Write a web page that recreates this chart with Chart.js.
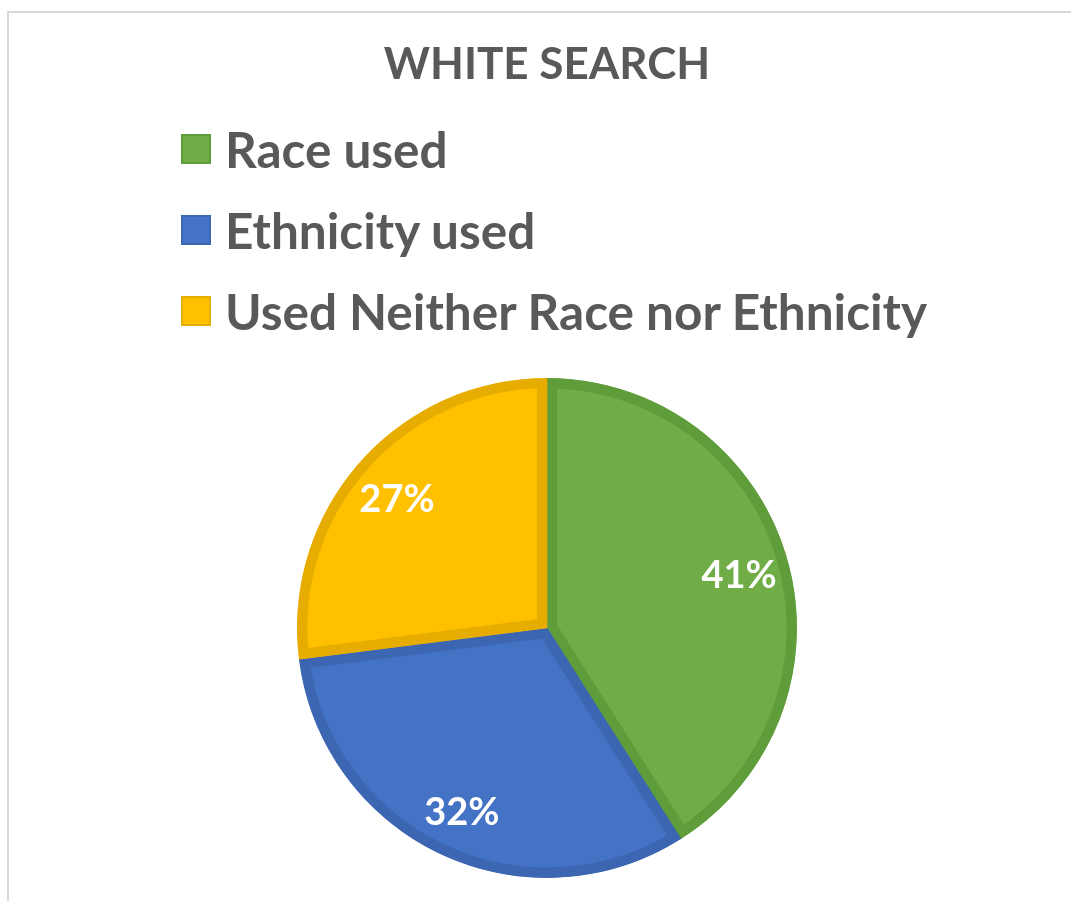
<!DOCTYPE html>
<html>
<head>
<meta charset="utf-8">
<script src="https://cdn.jsdelivr.net/npm/chart.js@4"></script>
<style>
html,body{margin:0;padding:0;background:#fff}
#wrap{position:relative;width:1071px;height:901px;overflow:hidden}
#frame{position:absolute;left:7px;top:11px;right:0;bottom:0;border-top:2px solid #d9d9d9;border-left:2px solid #d9d9d9}
#chart{position:absolute;left:0;top:0}
#legend{position:absolute;left:181px;top:108px;font-family:Lato,"Open Sans",sans-serif;font-weight:bold;color:#595959}
.item{display:flex;align-items:center;height:81px;font-size:49.5px;white-space:nowrap}
.box{width:26px;height:26px;margin-right:14px;border:2px solid}
</style>
</head>
<body>
<div id="wrap">
<div id="frame"></div>
<canvas id="chart" width="1071" height="901"></canvas>
<div id="legend"></div>
</div>
<script>

let labels = ["Race used","Ethnicity used","Used Neither Race nor Ethnicity"]
let values = [41,32,27]
let fills = ["#70ad47","#4472c4","#ffc000"]
let borders = ["#5f9c3a","#3c65b2","#e6ad00"]

// percent labels in white, drawn on each slice
let sliceLabels = {
id:"sliceLabels",
afterDatasetsDraw(chart){
let ctx = chart.ctx
let meta = chart.getDatasetMeta(0)
let total = values.reduce((a,b)=>a+b,0)
ctx.save()
ctx.font = "bold 38px Lato, 'Open Sans', sans-serif"
ctx.fillStyle = "#ffffff"
ctx.textAlign = "center"
ctx.textBaseline = "middle"
meta.data.forEach((arc,i)=>{
let p = arc.getProps(["x","y","startAngle","endAngle","outerRadius"])
let mid = (p.startAngle+p.endAngle)/2
let r = p.outerRadius*0.8
let x = p.x + Math.cos(mid)*r
let y = p.y + Math.sin(mid)*r + 4
ctx.fillText(Math.round(values[i]/total*100)+"%", x, y)
})
ctx.restore()
}
}

let ctx = document.getElementById("chart").getContext("2d")

let chart = new Chart(ctx,{
type:"pie",
data:{
labels:labels,
datasets:[{
data:values,
backgroundColor:fills,
borderColor:borders,
borderWidth:10,
borderAlign:"inner"
}]
},
options:{
responsive:false,
animation:false,
layout:{padding:{left:297,right:274,top:0,bottom:23}},
plugins:{
legend:{display:false},
tooltip:{enabled:false},
title:{
display:true,
text:"WHITE SEARCH",
color:"#595959",
font:{family:"Lato, 'Open Sans', sans-serif",size:44,weight:"bold"},
padding:{top:38,bottom:287}
}
}
},
plugins:[sliceLabels]
})

// legend built from the chart's own labels and colours
let legend = document.getElementById("legend")
chart.data.labels.forEach((label,i)=>{
let row = document.createElement("div")
row.className = "item"
let box = document.createElement("span")
box.className = "box"
box.style.background = fills[i]
box.style.borderColor = borders[i]
row.appendChild(box)
row.appendChild(document.createTextNode(label))
legend.appendChild(row)
})

</script>
</body>
</html>
